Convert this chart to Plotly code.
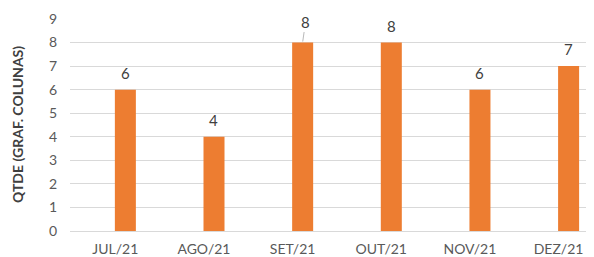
import plotly.graph_objects as go

categories = ["JUL/21", "AGO/21", "SET/21", "OUT/21", "NOV/21", "DEZ/21"]
values = [6, 4, 8, 8, 6, 7]
y_title = "QTDE (GRAF. COLUNAS)"

BAR = "#ED7D31"
TXT = "#595959"
FONT = "Lato"

# page has an 8px body margin; figure frame is shifted accordingly
W, H = 586, 249
ML, MT, MB = 62, 11, 26
PW = W - ML

fig = go.Figure()
fig.add_trace(go.Bar(
    x=list(range(len(categories))), y=values,
    marker=dict(color=BAR, line=dict(width=0)),
    width=0.237, offset=-0.005,
    hoverinfo="skip",
))

for i, v in enumerate(values):
    if i == 2:
        fig.add_annotation(x=i, y=v, text=str(v), showarrow=True, arrowhead=0,
                           arrowwidth=0.8, arrowcolor="#A6A6A6", ax=3, ay=-21,
                           xshift=10, standoff=1,
                           font=dict(family=FONT, size=15, color="#404040"))
    else:
        fig.add_annotation(x=i, y=v, text=str(v), showarrow=False, yshift=17,
                           xshift=10,
                           font=dict(family=FONT, size=15, color="#404040"))

fig.add_annotation(xref="paper", yref="paper", x=(9 - ML) / PW, y=0.5,
                   text="<b>" + y_title + "</b>", textangle=-90, showarrow=False,
                   xanchor="center", yanchor="middle",
                   font=dict(family=FONT, size=14, color="#404040"))

fig.update_layout(
    width=W, height=H,
    margin=dict(l=ML, r=0, t=MT, b=MB, pad=0),
    paper_bgcolor="white", plot_bgcolor="white",
    showlegend=False,
    font=dict(family=FONT, size=14, color=TXT),
    xaxis=dict(
        range=[-0.511, 5.40], automargin=False,
        tickmode="array", tickvals=list(range(len(categories))), ticktext=categories,
        showgrid=False, zeroline=False, showline=False, ticks="",
        ticklabelstandoff=8,
        tickfont=dict(family=FONT, size=14, color=TXT),
    ),
    yaxis=dict(
        range=[0, 9], dtick=1, automargin=False,
        showgrid=True, gridcolor="#D9D9D9", gridwidth=1,
        zeroline=True, zerolinecolor="#D9D9D9", zerolinewidth=1,
        showline=False, ticks="", ticklabelstandoff=12,
        tickfont=dict(family=FONT, size=14, color=TXT),
    ),
)

fig.write_html("out.html")
